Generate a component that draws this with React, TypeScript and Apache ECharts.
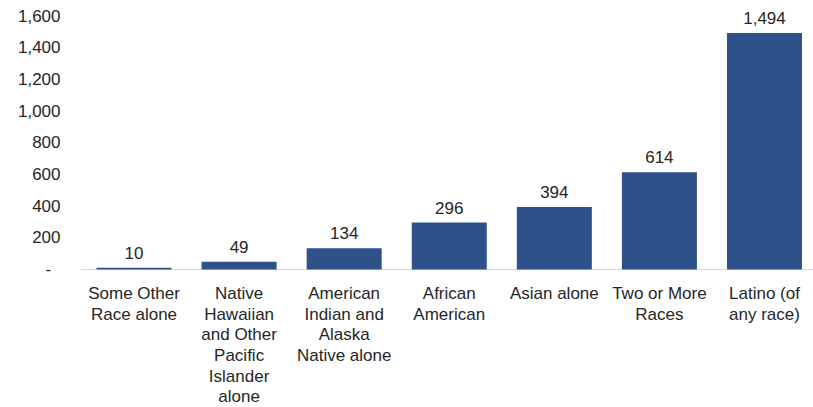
import React, { useEffect, useRef } from "react";
import * as echarts from "echarts";

const categories = [
  "Some Other\nRace alone",
  "Native\nHawaiian\nand Other\nPacific\nIslander\nalone",
  "American\nIndian and\nAlaska\nNative alone",
  "African\nAmerican",
  "Asian alone",
  "Two or More\nRaces",
  "Latino (of\nany race)",
];
const values = [10, 49, 134, 296, 394, 614, 1494];

const FONT = "Liberation Sans";

export default function App() {
  const ref = useRef<HTMLDivElement>(null);
  useEffect(() => {
    const chart = echarts.init(ref.current!, null, { renderer: "svg" });
    chart.setOption({
      animation: false,
      grid: { left: 81.5, right: 0, top: 16.3, bottom: 133, containLabel: false },
      xAxis: {
        type: "category",
        data: categories,
        axisLine: { show: true, lineStyle: { color: "#D9D9D9", width: 1 } },
        axisTick: { show: false },
        axisLabel: {
          interval: 0,
          margin: 14,
          color: "#262626",
          fontFamily: FONT,
          fontSize: 17,
          lineHeight: 20.6,
          align: "center",
        },
      },
      yAxis: {
        type: "value",
        min: 0,
        max: 1600,
        interval: 200,
        axisLine: { show: false },
        axisTick: { show: false },
        splitLine: { show: false },
        axisLabel: {
          margin: 21,
          color: "#262626",
          fontFamily: FONT,
          fontSize: 17,
          formatter: (v: number) => (v === 0 ? "-  " : v.toLocaleString("en-US")),
        },
      },
      series: [
        {
          type: "bar",
          data: values,
          barCategoryGap: "28.6%",
          itemStyle: { color: "#2E5189" },
          label: {
            show: true,
            position: "top",
            distance: 6,
            color: "#262626",
            fontFamily: FONT,
            fontSize: 17,
            formatter: (p: any) => Number(p.value).toLocaleString("en-US"),
          },
        },
      ],
    });
    return () => chart.dispose();
  }, []);
  return (
    <div
      style={{
        position: "fixed",
        left: 0,
        top: 0,
        width: 813,
        height: 407,
        overflow: "hidden",
        background: "#fff",
      }}
    >
      <div ref={ref} style={{ width: 817, height: 407 }} />
    </div>
  );
}
